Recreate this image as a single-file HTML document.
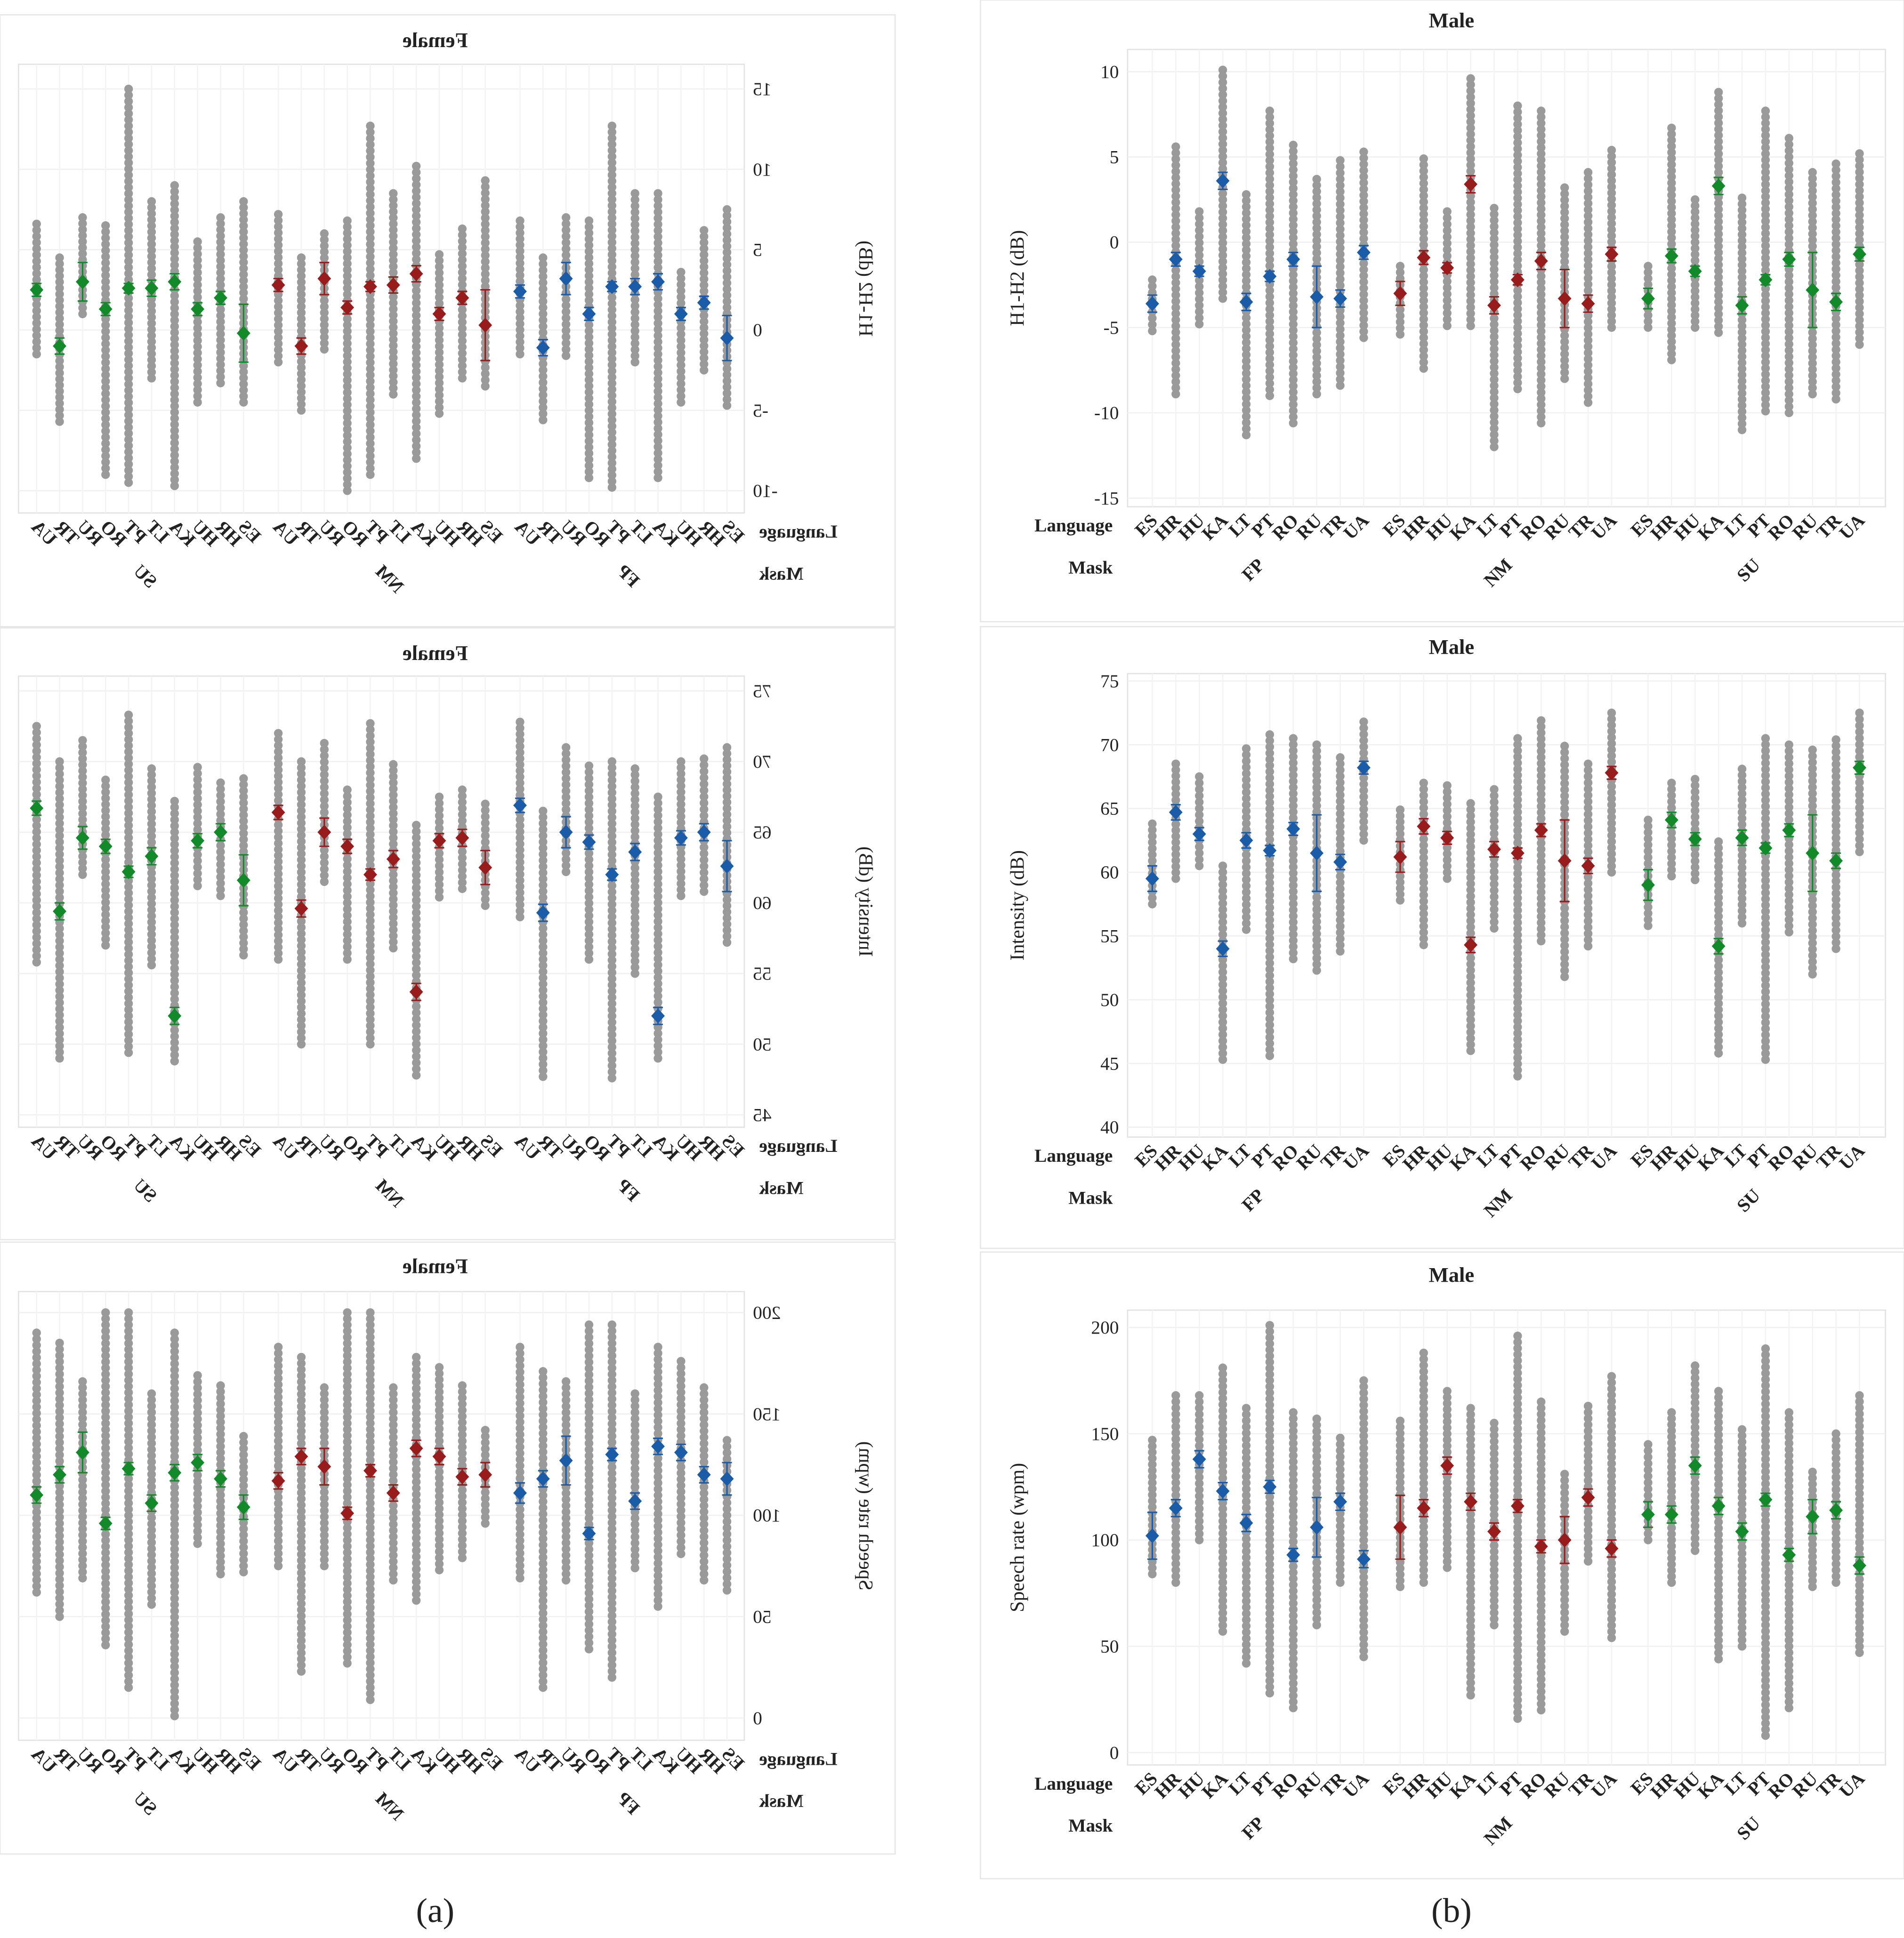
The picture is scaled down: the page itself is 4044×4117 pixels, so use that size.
<!DOCTYPE html>
<html><head><meta charset="utf-8"><style>
html,body{margin:0;padding:0;background:#fff}
svg{display:block}
text{font-family:"Liberation Serif",serif;fill:#222}
</style></head><body>
<svg id="fig" width="4044" height="4117" viewBox="0 0 1540 1568" preserveAspectRatio="none" xmlns="http://www.w3.org/2000/svg">
<rect x="0" y="0" width="1540" height="1568" fill="#fff"/>
<text x="352" y="1555" font-size="28" text-anchor="middle">(a)</text>
<text x="1174" y="1555" font-size="28" text-anchor="middle">(b)</text>
</svg>
<script>
const langs=["ES","HR","HU","KA","LT","PT","RO","RU","TR","UA"];
const masks=["FP","NM","SU"];
const maskColors=["#1a5ca8","#981c1c","#138a2a"];

// Male H1-H2
const mH1Mean=[-3.6,-1.0,-1.7,3.6,-3.5,-2.0,-1.0,-3.2,-3.3,-0.6, -3.0,-0.9,-1.5,3.4,-3.7,-2.2,-1.1,-3.3,-3.6,-0.7, -3.3,-0.8,-1.7,3.3,-3.7,-2.2,-1.0,-2.8,-3.5,-0.7];
const mH1Err=[0.5,0.4,0.3,0.5,0.5,0.3,0.4,1.8,0.5,0.4, 0.7,0.4,0.3,0.5,0.5,0.3,0.5,1.7,0.5,0.4, 0.6,0.4,0.3,0.5,0.5,0.3,0.4,2.2,0.5,0.4];
const mH1Lo=[-5.2,-8.9,-4.8,-3.3,-11.3,-9.0,-10.6,-8.9,-8.4,-5.6, -5.4,-7.4,-4.9,-4.9,-12.0,-8.6,-10.6,-8.0,-9.4,-5.0, -5.0,-6.9,-5.0,-5.3,-11.0,-9.9,-10.0,-8.9,-9.2,-6.0];
const mH1Hi=[-2.2,5.6,1.8,10.1,2.8,7.7,5.7,3.7,4.8,5.3, -1.4,4.9,1.8,9.6,2.0,8.0,7.7,3.2,4.1,5.4, -1.4,6.7,2.5,8.8,2.6,7.7,6.1,4.1,4.6,5.2];
// Male intensity
const mInMean=[59.5,64.7,63.0,54.0,62.5,61.7,63.4,61.5,60.8,68.2, 61.2,63.6,62.7,54.3,61.8,61.5,63.3,60.9,60.5,67.8, 59.0,64.1,62.6,54.2,62.7,61.9,63.3,61.5,60.9,68.2];
const mInErr=[1.0,0.6,0.5,0.6,0.6,0.4,0.5,3.0,0.6,0.5, 1.2,0.6,0.5,0.6,0.6,0.4,0.5,3.2,0.6,0.5, 1.2,0.6,0.5,0.6,0.6,0.4,0.5,3.0,0.6,0.5];
const mInLo=[57.5,59.5,60.5,45.3,55.5,45.6,53.2,52.3,53.8,62.5, 57.8,54.3,59.5,46.0,55.6,44.0,54.6,51.8,54.2,60.0, 55.8,59.7,59.4,45.8,56.0,45.3,55.3,52.0,54.0,61.6];
const mInHi=[63.8,68.5,67.5,60.5,69.7,70.8,70.5,70.0,69.0,71.8, 64.9,67.0,66.8,65.4,66.5,70.5,71.9,69.9,68.5,72.5, 64.1,67.0,67.3,62.4,68.1,70.5,70.0,69.6,70.4,72.5];
// Male speech rate
const mSrMean=[102,115,138,123,108,125,93,106,118,91, 106,115,135,118,104,116,97,100,120,96, 112,112,135,116,104,119,93,111,114,88];
const mSrErr=[11,4,4,4,4,3,3,14,4,4, 15,4,4,4,4,3,3,11,4,4, 6,4,4,4,4,3,3,8,4,4];
const mSrLo=[84,80,100,57,42,28,21,60,80,45, 78,80,87,27,60,16,20,57,90,54, 100,80,95,44,50,8,21,78,80,47];
const mSrHi=[147,168,168,181,162,201,160,157,148,175, 156,188,170,162,155,196,165,131,163,177, 145,160,182,170,152,190,160,132,150,168];
// Female H1-H2
const fH1Mean=[-0.5,1.7,1.0,3.0,2.7,2.7,1.0,3.2,-1.1,2.4, 0.3,2.0,1.0,3.5,2.8,2.7,1.4,3.2,-1.0,2.8, -0.2,2.0,1.3,3.0,2.6,2.6,1.3,3.0,-1.0,2.5];
const fH1Err=[1.4,0.4,0.4,0.5,0.5,0.3,0.4,1.0,0.5,0.4, 2.2,0.4,0.4,0.5,0.5,0.3,0.4,1.0,0.5,0.4, 1.8,0.4,0.4,0.5,0.5,0.3,0.4,1.2,0.5,0.4];
const fH1Lo=[-4.7,-2.5,-4.5,-9.2,-2.0,-9.8,-9.2,-1.6,-5.6,-1.5, -3.5,-3.0,-5.2,-8.0,-4.0,-9.0,-10.0,-1.2,-5.0,-2.0, -4.5,-3.3,-4.5,-9.7,-3.0,-9.5,-9.0,1.0,-5.7,-1.5];
const fH1Hi=[7.5,6.2,3.6,8.5,8.5,12.7,6.8,7.0,4.5,6.8, 9.3,6.3,4.7,10.2,8.5,12.7,6.8,6.0,4.5,7.2, 8.0,7.0,5.5,9.0,8.0,15.0,6.5,7.0,4.5,6.6];
// Female intensity
const fInMean=[62.6,65.0,64.6,52.0,63.6,62.0,64.3,65.0,59.3,66.9, 62.5,64.6,64.4,53.7,63.1,62.0,64.0,65.0,59.6,66.4, 61.6,65.0,64.4,52.0,63.3,62.2,64.0,64.6,59.4,66.7];
const fInErr=[1.8,0.6,0.5,0.6,0.6,0.4,0.5,1.1,0.6,0.5, 1.2,0.6,0.5,0.6,0.6,0.4,0.5,1.0,0.6,0.5, 1.8,0.6,0.5,0.6,0.6,0.4,0.5,0.8,0.6,0.5];
const fInLo=[57.2,60.8,60.5,49.0,55.0,47.6,56.0,62.2,47.7,59.0, 59.8,61.0,60.4,47.8,56.8,50.0,56.0,61.5,50.0,56.0, 56.3,60.5,61.2,48.8,55.6,49.4,57.0,62.0,49.0,55.8];
const fInHi=[71.0,70.2,70.0,67.5,69.5,70.0,69.7,71.0,66.5,72.8, 67.0,68.0,67.5,65.5,69.8,72.7,68.0,71.3,70.0,72.0, 68.8,68.5,69.6,67.2,69.5,73.3,68.7,71.5,70.0,72.5];
// Female speech rate
const fSrMean=[118,120,131,134,107,130,91,127,118,111, 120,119,129,133,111,122,101,124,129,117, 104,118,126,121,106,123,96,131,120,110];
const fSrErr=[8,4,4,4,4,3,3,12,4,5, 6,4,4,4,4,3,3,9,4,4, 6,4,4,4,4,3,3,10,4,4];
const fSrLo=[63,68,81,55,74,20,34,68,15,69, 96,79,73,58,68,9,27,75,23,75, 72,71,86,1,56,15,36,69,50,62];
const fSrHi=[137,163,176,183,160,194,194,166,171,183, 142,164,173,178,163,200,200,163,178,183, 139,164,169,190,160,200,200,166,185,190];

const NS="http://www.w3.org/2000/svg";
const svg=document.getElementById('fig');
function el(tag,attrs,parent){const e=document.createElementNS(NS,tag);for(const k in attrs)e.setAttribute(k,attrs[k]);parent.appendChild(e);return e;}

function drawPanel(cfg){
  const g=el('g',cfg.mirror?{transform:'translate(724,0) scale(-1,1)'}:{},svg);
  
  
  const fr=el('rect',{x:cfg.fx,y:cfg.fy,width:cfg.fw,height:cfg.fh,fill:'none',stroke:'#e6e6e6','stroke-width':1},g);
  
  
  const yS=v=>cfg.y0px+(v-cfg.y0)*(cfg.y1px-cfg.y0px)/(cfg.y1-cfg.y0);
  const xS=i=>cfg.x0+Math.floor(i/10)*cfg.gstep+(i%10)*cfg.step;
  const pb=el('rect',{x:cfg.px0,y:cfg.py0,width:cfg.px1-cfg.px0,height:cfg.py1-cfg.py0,fill:'none',stroke:'#e2e2e2','stroke-width':1},g);
  
  
  cfg.ticks.forEach(t=>{
    const y=yS(t);
    const gl=el('line',{x1:cfg.px0,x2:cfg.px1,y1:y,y2:y,stroke:'#f0f0f0','stroke-width':1},g);
    
    
    const tl=el('text',{x:cfg.px0-7,y:y+5,'font-size':15,'text-anchor':'end'},g);
    
    
    tl.textContent=t;
  });
  for(let i=0;i<30;i++){
    const x=xS(i);
    const vl=el('line',{x1:x,x2:x,y1:cfg.py0,y2:cfg.py1,stroke:'#f3f3f3','stroke-width':1},g);
    
    
  }
  const yt=el('text',{x:cfg.ytx,y:(cfg.py0+cfg.py1)/2,'font-size':16,'text-anchor':'middle',transform:`rotate(-90 ${cfg.ytx} ${(cfg.py0+cfg.py1)/2})`},g);
  
  
  yt.textContent=cfg.ytitle;
  const tt=el('text',{x:cfg.titleX,y:cfg.titleY,'font-size':17,'font-weight':'bold','text-anchor':'middle'},g);
  
  
  tt.textContent=cfg.title;
  const ll=el('text',{x:cfg.px0-12,y:cfg.py1+20,'font-size':15,'font-weight':'bold','text-anchor':'end'},g);
  
  
  ll.textContent='Language';
  const ml=el('text',{x:cfg.px0-12,y:cfg.py1+54,'font-size':15,'font-weight':'bold','text-anchor':'end'},g);
  
  
  ml.textContent='Mask';
  for(let i=0;i<30;i++){
    const x=xS(i);
    const a=yS(cfg.lo[i]),b=yS(cfg.hi[i]);
    const top=Math.min(a,b),bot=Math.max(a,b);
    const n=Math.max(1,Math.round((bot-top)/5));
    for(let k=0;k<=n;k++){
      const c=el('circle',{cx:x,cy:top+(bot-top)*k/n,r:3.5,fill:'#9a9a9a'},g);
      
      
    }
  }
  for(let i=0;i<30;i++){
    const x=xS(i),col=maskColors[Math.floor(i/10)];
    const yt1=yS(cfg.mean[i]+cfg.err[i]),yb1=yS(cfg.mean[i]-cfg.err[i]);
    const eb=el('path',{d:`M${x} ${yt1}V${yb1}M${x-4} ${yt1}H${x+4}M${x-4} ${yb1}H${x+4}`,stroke:col,'stroke-width':1.2,fill:'none'},g);
    
    
    const y=yS(cfg.mean[i]);
    const d=el('path',{d:`M${x} ${y-6}L${x+5.5} ${y}L${x} ${y+6}L${x-5.5} ${y}Z`,fill:col},g);
    
    
    const cl=el('text',{x:x+5,y:cfg.py1+12,'font-size':15,'font-weight':'bold','text-anchor':'end',transform:`rotate(-45 ${x+5} ${cfg.py1+12})`},g);
    
    
    cl.textContent=langs[i%10];
  }
  for(let m=0;m<3;m++){
    const cx=(xS(m*10)+xS(m*10+9))/2+6;
    const gl=el('text',{x:cx,y:cfg.py1+48,'font-size':15,'font-weight':'bold','text-anchor':'end',transform:`rotate(-45 ${cx} ${cfg.py1+48})`},g);
    
    
    gl.textContent=masks[m];
  }
}

const R={mirror:false,fx:793,fw:747,px0:912,px1:1525,x0:932,step:19,gstep:200.5,ytx:828,titleX:1174};
drawPanel(Object.assign({},R,{name:'male-h1h2-panel',fy:0,fh:503,py0:40,py1:410,titleY:22,title:'Male',ytitle:'H1-H2 (dB)',y0:0,y0px:196,y1:10,y1px:58,ticks:[-15,-10,-5,0,5,10],mean:mH1Mean,err:mH1Err,lo:mH1Lo,hi:mH1Hi}));
drawPanel(Object.assign({},R,{name:'male-intensity-panel',fy:507,fh:503,py0:545,py1:920,titleY:529,title:'Male',ytitle:'Intensity (dB)',y0:75,y0px:551,y1:40,y1px:912,ticks:[40,45,50,55,60,65,70,75],mean:mInMean,err:mInErr,lo:mInLo,hi:mInHi}));
drawPanel(Object.assign({},R,{name:'male-speech-rate-panel',fy:1013,fh:507,py0:1060,py1:1428,titleY:1037,title:'Male',ytitle:'Speech rate (wpm)',y0:0,y0px:1418,y1:200,y1px:1074,ticks:[0,50,100,150,200],mean:mSrMean,err:mSrErr,lo:mSrLo,hi:mSrHi}));
const L={mirror:true,fx:0,fw:724,px0:122,px1:709,x0:136,step:18.6,gstep:195.5,ytx:29,titleX:372};
drawPanel(Object.assign({},L,{name:'female-h1h2-panel',fy:12,fh:495,py0:52,py1:415,titleY:38,title:'Female',ytitle:'H1-H2 (dB)',y0:0,y0px:267,y1:15,y1px:72,ticks:[-10,-5,0,5,10,15],mean:fH1Mean,err:fH1Err,lo:fH1Lo,hi:fH1Hi}));
drawPanel(Object.assign({},L,{name:'female-intensity-panel',fy:508,fh:495,py0:547,py1:912,titleY:534,title:'Female',ytitle:'Intensity (dB)',y0:75,y0px:559,y1:45,y1px:902,ticks:[45,50,55,60,65,70,75],mean:fInMean,err:fInErr,lo:fInLo,hi:fInHi}));
drawPanel(Object.assign({},L,{name:'female-speech-rate-panel',fy:1005,fh:495,py0:1045,py1:1408,titleY:1030,title:'Female',ytitle:'Speech rate (wpm)',y0:0,y0px:1390,y1:200,y1px:1062,ticks:[0,50,100,150,200],mean:fSrMean,err:fSrErr,lo:fSrLo,hi:fSrHi}));
</script>
</body></html>
